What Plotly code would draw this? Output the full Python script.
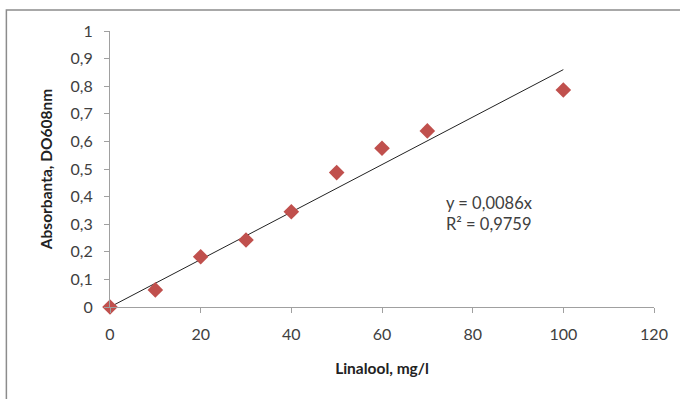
import plotly.graph_objects as go

conc = [0, 10, 20, 30, 40, 50, 60, 70, 100]
absorb = [0.0, 0.062, 0.182, 0.243, 0.345, 0.487, 0.575, 0.638, 0.786]
slope = 0.0086
trend_x = [0, 100]
trend_y = [slope * v for v in trend_x]
x_ticks = [0, 20, 40, 60, 80, 100, 120]
y_ticks = [0, 0.1, 0.2, 0.3, 0.4, 0.5, 0.6, 0.7, 0.8, 0.9, 1]
y_labels = ["0", "0,1", "0,2", "0,3", "0,4", "0,5", "0,6", "0,7", "0,8", "0,9", "1"]

font = "Lato, 'Open Sans', sans-serif"

fig = go.Figure()
fig.add_trace(go.Scatter(x=trend_x, y=trend_y, mode="lines",
                         line=dict(color="#222222", width=1), showlegend=False))
fig.add_trace(go.Scatter(x=conc, y=absorb, mode="markers",
                         marker=dict(symbol="diamond", size=12, color="#C0504D"),
                         showlegend=False, cliponaxis=False))

fig.add_annotation(x=73.6, y=0.337, xref="x", yref="y", showarrow=False,
                   text="y = 0,0086x<br>R² = 0,9759", align="left", xanchor="left",
                   yanchor="middle",
                   font=dict(family=font, size=16.5, color="#404040"))

# outer frame
L, R, T, B = 110, 656, 31, 307
W, H = R - L, B - T
fig.add_shape(type="rect", xref="paper", yref="paper",
              x0=(6 - L) / W, x1=(700 - L) / W, y0=(B - 420) / H, y1=(B - 10) / H,
              line=dict(color="#8c8c8c", width=1.5), fillcolor="rgba(0,0,0,0)")

fig.update_xaxes(range=[0, 120], tickvals=x_ticks, showgrid=False, zeroline=False,
                 showline=True, linecolor="#a0a0a0", linewidth=1,
                 ticks="outside", ticklen=5, tickcolor="#a0a0a0", ticklabelstandoff=8,
                 tickfont=dict(family=font, size=16, color="#404040"),
                 title=dict(text="<b>Linalool, mg/l</b>", standoff=20,
                            font=dict(family=font, size=15.5, color="#222222")))
fig.update_yaxes(range=[0, 1], tickvals=y_ticks, ticktext=y_labels, showgrid=False,
                 zeroline=False, showline=True, linecolor="#a0a0a0", linewidth=1,
                 ticks="outside", ticklen=5, tickcolor="#a0a0a0", ticklabelstandoff=8,
                 tickfont=dict(family=font, size=16, color="#404040"),
                 title=dict(text="<b>Absorbanta, DO608nm</b>", standoff=14,
                            font=dict(family=font, size=15.5, color="#222222")))

fig.update_layout(width=680, height=399, margin=dict(l=L, r=680 - R, t=T, b=399 - B),
                  paper_bgcolor="white", plot_bgcolor="white")
fig.write_html("out.html")
